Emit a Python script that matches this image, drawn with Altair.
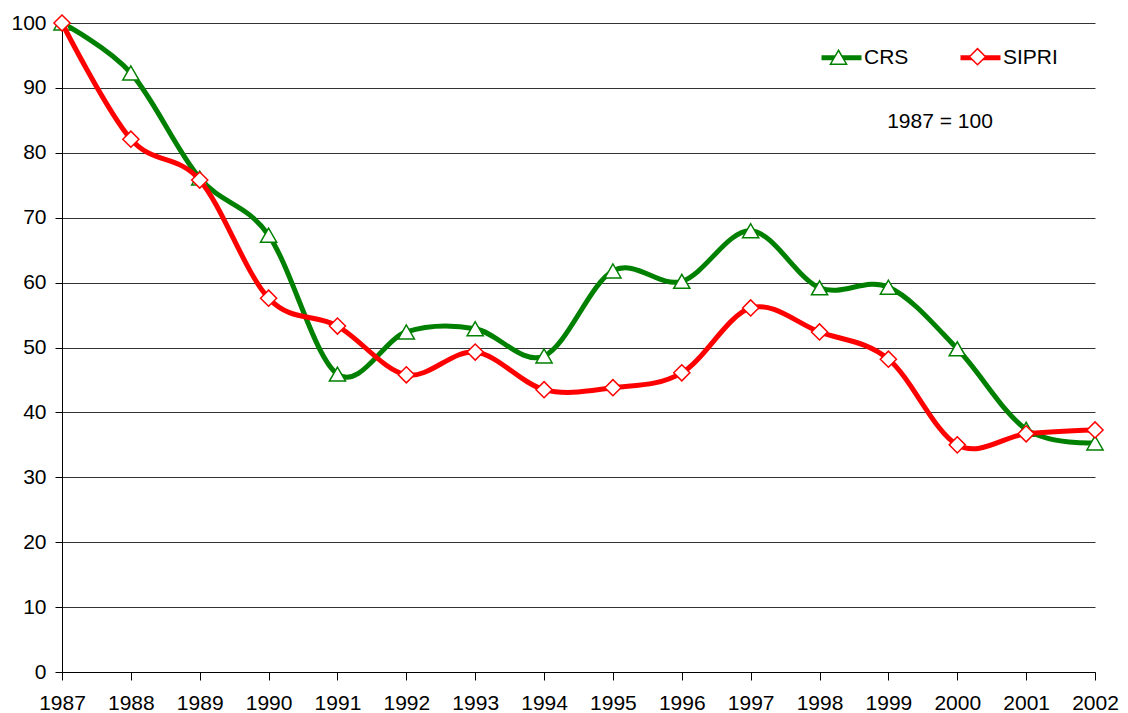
import altair as alt
import pandas as pd

years = list(range(1987, 2003))
crs = [100, 92.3, 76.1, 67.3, 45.9, 52.4, 52.9, 48.7, 61.8, 60.2, 68.0, 59.2, 59.3, 49.8, 37.4, 35.3]
sipri = [100, 82.1, 75.8, 57.6, 53.3, 45.8, 49.3, 43.5, 43.8, 46.1, 56.1, 52.4, 48.2, 35.0, 36.7, 37.3]
series_names = ["CRS", "SIPRI"]
colors = ["#008000", "#FF0000"]
shapes = ["triangle-up", "diamond"]
y_ticks = list(range(0, 101, 10))
note = "1987 = 100"

df = pd.DataFrame({
    "Year": years * 2,
    "Value": crs + sipri,
    "Series": [series_names[0]] * len(years) + [series_names[1]] * len(years),
})
df["Marker"] = df["Series"]

FONT = "Liberation Sans"
FS = 21

x = alt.X("Year:Q", scale=alt.Scale(domain=[1987, 2002], nice=False, zero=False),
          axis=alt.Axis(values=years, format="d", title=None, grid=False, tickSize=8,
                        labelPadding=12, labelFlush=False, domainColor="black",
                        tickColor="black", labelFontSize=FS, labelFont=FONT,
                        labelColor="black"))
y = alt.Y("Value:Q", scale=alt.Scale(domain=[0, 100], nice=False),
          axis=alt.Axis(values=y_ticks, title=None, grid=True, gridColor="#333",
                        gridWidth=1, tickSize=7, labelPadding=9, domainColor="black",
                        tickColor="black", labelFontSize=FS, labelFont=FONT,
                        labelColor="black"))

color = alt.Color("Series:N", scale=alt.Scale(domain=series_names, range=colors),
                  legend=alt.Legend(orient="none", legendX=757, legendY=12,
                                    direction="horizontal", title=None,
                                    symbolType="stroke", symbolSize=1600,
                                    symbolStrokeWidth=5, labelFontSize=FS,
                                    labelFont=FONT, labelColor="black",
                                    labelOffset=0, columnPadding=41))
marker_legend = alt.Legend(orient="none", legendX=766, legendY=23,
                           direction="horizontal", title=None,
                           symbolSize=260, symbolStrokeWidth=1.5,
                           symbolFillColor="white", labelFontSize=FS,
                           labelFont=FONT, labelExpr="''",
                           labelOffset=5, columnPadding=112)
shape = alt.Shape("Marker:N", scale=alt.Scale(range=shapes), legend=marker_legend)
stroke = alt.Stroke("Marker:N", scale=alt.Scale(range=colors), legend=marker_legend)

base = alt.Chart(df)
layers = []
for s in series_names:
    sub = base.transform_filter(alt.datum.Series == s)
    layers.append(sub.mark_line(interpolate="cardinal", strokeWidth=5).encode(
        x=x, y=y, color=color))
    layers.append(sub.mark_point(fill="white", fillOpacity=1, strokeWidth=1.5,
                                 size=260, opacity=1).encode(
        x=x, y=y, shape=shape, stroke=stroke))

text = alt.Chart(pd.DataFrame({"t": [note]})).mark_text(
    fontSize=FS, font=FONT, color="black", align="center", baseline="middle"
).encode(text="t:N", x=alt.value(878), y=alt.value(99))
layers.append(text)

chart = alt.layer(*layers).properties(
    width=1033, height=649,
    autosize=alt.AutoSizeParams(type="none"),
    padding={"left": 54, "top": 15, "right": 25, "bottom": 40},
).configure_view(stroke="transparent")

chart.save("out.html", embed_options={"renderer": "svg", "actions": False})
